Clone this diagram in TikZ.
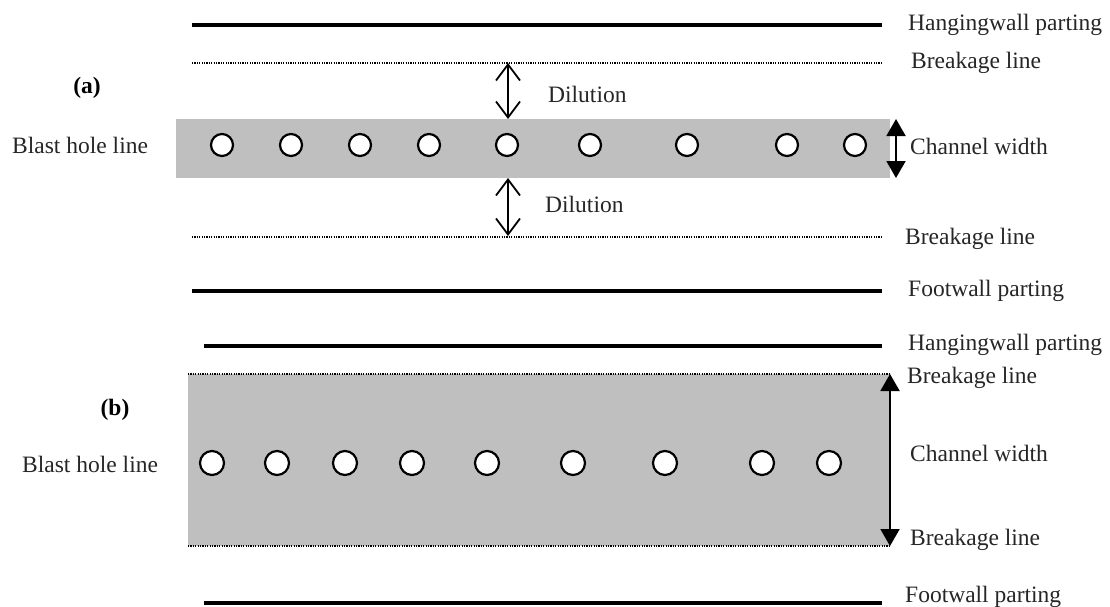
\documentclass[tikz,border=0pt]{standalone}
\usepackage{fontspec}
\setmainfont{Liberation Serif}
\usetikzlibrary{arrows.meta}
\begin{document}
\begin{tikzpicture}[x=1pt,y=-1pt,
  parting/.style={line width=4pt},
  breakage/.style={line width=1.3pt,dash pattern=on 1.2pt off 1.2pt},
  band/.style={fill=black!25,draw=none},
  hole/.style={circle,draw,line width=2.2pt,fill=white,minimum size=22pt,inner sep=0pt},
  lbl/.style={anchor=west,inner sep=0pt,font=\fontsize{23.5}{26}\selectfont,text=black!85},
  dil/.style={line width=1.6pt,{Straight Barb[length=16pt,width=24pt,line width=1.8pt]}-{Straight Barb[length=16pt,width=24pt,line width=1.8pt]}},
  chw/.style={line width=2pt,{Triangle[length=17pt,width=19pt]}-{Triangle[length=17pt,width=19pt]}},
  tag/.style={inner sep=0pt,font=\fontsize{23.5}{26}\selectfont\bfseries}]
\useasboundingbox (0,0) rectangle (1110,606);
% ---------- (a) ----------
\fill[band] (176,119) rectangle (890,178);
\draw[parting] (192,25) -- (882,25);
\draw[breakage] (192,63) -- (882,63);
\draw[breakage] (192,237) -- (882,237);
\draw[parting] (192,291) -- (882,291);
\node[lbl] (hwa) at (908,25) {Hangingwall parting};
\node[lbl] (bla1) at (911,63) {Breakage line};
\node[lbl] (bla2) at (905,239) {Breakage line};
\node[lbl] (fwa) at (908,291) {Footwall parting};
\node[tag] (ta) at (87,88) {(a)};
\node[lbl] (bha) at (12,145) {Blast hole line};
\foreach \x [count=\i] in {222,291,360,429,507,590,687,787,855}
  \node[hole] (a\i) at (\x,145) {};
\coordinate (da1) at (508,63);
\coordinate (da2) at (508,119);
\coordinate (da3) at (508,178);
\coordinate (da4) at (508,236);
\draw[dil] (da1) -- (da2);
\draw[dil] (da3) -- (da4);
\node[lbl] (dila) at (548,94) {Dilution};
\node[lbl] (dilb) at (545,204) {Dilution};
\coordinate (ca1) at (896,119);
\coordinate (ca2) at (896,178);
\draw[chw] (ca1) -- (ca2);
\node[lbl] (cwa) at (910,146) {Channel width};
% ---------- (b) ----------
\fill[band] (188,374) rectangle (890,546);
\draw[parting] (204,346) -- (882,346);
\draw[breakage] (188,374) -- (890,374);
\draw[breakage] (188,546) -- (890,546);
\draw[parting] (204,603) -- (882,603);
\node[lbl] (hwb) at (908,345) {Hangingwall parting};
\node[lbl] (blb1) at (907,378) {Breakage line};
\node[lbl] (blb2) at (910,540) {Breakage line};
\node[lbl] (fwb) at (905,597) {Footwall parting};
\node[tag] (tb) at (115,410) {(b)};
\node[lbl] (bhb) at (22,464) {Blast hole line};
\foreach \x [count=\i] in {212,277,345,412,487,573,665,762,829}
  \node[hole,minimum size=24pt] (b\i) at (\x,463) {};
\coordinate (cb1) at (890,374);
\coordinate (cb2) at (890,546);
\draw[chw] (cb1) -- (cb2);
\node[lbl] (cwb) at (910,453) {Channel width};
\end{tikzpicture}
\end{document}
